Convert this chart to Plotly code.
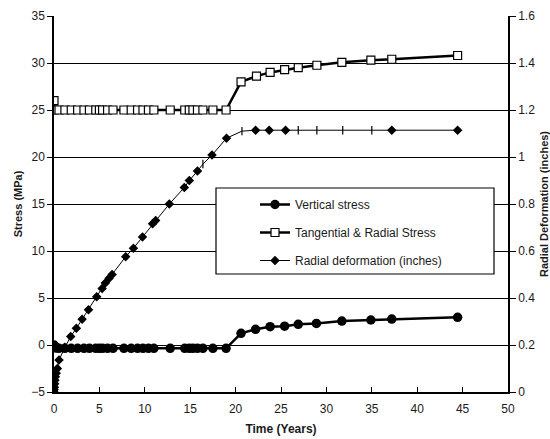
import plotly.graph_objects as go

# ---------------- data ----------------
t_tang = [0, 0.02, 0.55, 1.2, 1.9, 2.6, 3.3, 3.9, 4.6, 5.0, 5.35, 5.9, 6.5, 7.7, 8.5,
          9.2, 9.8, 10.4, 11.0, 12.8, 14.4, 14.9, 15.3, 15.8, 16.4, 17.5, 18.95,
          20.6, 22.3, 23.8, 25.4, 26.9, 28.95, 31.7, 34.9, 37.2, 44.45]
s_tang = [26.0] + [25.0] * 26 + [28.0, 28.6, 29.0, 29.3, 29.5, 29.76, 30.07, 30.3, 30.4, 30.8]

t_vert = [0, 0.05, 0.1, 0.2, 0.3, 0.55, 1.2, 1.9, 2.6, 3.3, 3.9, 4.6, 5.0, 5.35, 5.9,
          6.5, 7.7, 8.5, 9.2, 9.8, 10.4, 11.0, 12.8, 14.4, 14.9, 15.3, 15.8, 16.4,
          17.5, 18.95, 20.6, 22.2, 23.8, 25.4, 26.9, 28.9, 31.7, 34.9, 37.2, 44.45]
s_vert = [0.0, -0.1, -0.2, -0.3, -0.3] + [-0.35] * 25 + [1.24, 1.67, 1.95, 2.0, 2.2, 2.3, 2.55, 2.66, 2.76, 2.94]

t_def = [0, 0.02, 0.04, 0.07, 0.1, 0.15, 0.25, 0.37, 0.55, 1.2, 1.84, 2.46, 3.1, 3.8,
         4.7, 5.3, 5.65, 6.07, 6.4, 7.9, 8.75, 9.75, 10.85, 11.2, 12.7, 14.35, 14.9,
         15.8, 16.4, 17.4, 19.0, 20.7, 22.2, 23.7, 25.5, 26.9, 28.95, 31.8, 35.0,
         37.2, 44.45]
d_def = [0.0, 0.01, 0.02, 0.035, 0.05, 0.065, 0.08, 0.10, 0.136, 0.19, 0.236, 0.271,
         0.31, 0.35, 0.405, 0.44, 0.464, 0.484, 0.50, 0.576, 0.612, 0.66, 0.716, 0.73,
         0.80, 0.87, 0.90, 0.94, 0.97, 1.008, 1.08, 1.11, 1.114, 1.114, 1.114, 1.114,
         1.114, 1.114, 1.114, 1.114, 1.114]
# marker kind per point: diamond or short vertical tick
tick_times = [16.4, 20.7, 26.9, 28.95, 31.8, 35.0]

x_ticks = [0, 5, 10, 15, 20, 25, 30, 35, 40, 45, 50]
y_ticks = [-5, 0, 5, 10, 15, 20, 25, 30, 35]
y2_ticks = [0, 0.2, 0.4, 0.6, 0.8, 1, 1.2, 1.4, 1.6]

FONT = "Liberation Sans, Arial, sans-serif"
TXT = "#1a1a1a"

fig = go.Figure()

fig.add_trace(go.Scatter(
    x=t_vert, y=s_vert, name="Vertical stress", mode="lines+markers",
    line=dict(color="black", width=2.5),
    marker=dict(symbol="circle", size=9.5, color="black"),
    legendgroup="a"))

fig.add_trace(go.Scatter(
    x=t_tang, y=s_tang, name="Tangential & Radial Stress", mode="lines+markers",
    line=dict(color="black", width=2.5),
    marker=dict(symbol="square", size=8, color="white",
                line=dict(color="black", width=1.2)),
    legendgroup="b"))

symbols = ["line-ns" if t in tick_times else "diamond" for t in t_def]
fig.add_trace(go.Scatter(
    x=t_def, y=d_def, name="Radial deformation (inches)", mode="lines+markers",
    yaxis="y2",
    line=dict(color="black", width=1),
    marker=dict(symbol=symbols, size=6, color="black",
                line=dict(color="black", width=1.2)),
    legendgroup="c"))

# plot area in pixels: x 54..508, y 16..392
L, R, T, B = 54, 42, 16, 47
W, H = 550, 439
pw, ph = W - L - R, H - T - B

def px2paper_x(px):
    return (px - L) / pw

def px2paper_y(py):
    return (H - B - py) / ph

fig.update_layout(
    width=W, height=H,
    margin=dict(l=L, r=R, t=T, b=B, autoexpand=False),
    paper_bgcolor="white", plot_bgcolor="white",
    font=dict(family=FONT, size=12, color=TXT),
    showlegend=True,
    legend=dict(
        x=px2paper_x(255), y=px2paper_y(190), xanchor="left", yanchor="top",
        bgcolor="rgba(0,0,0,0)", borderwidth=0,
        font=dict(family=FONT, size=12, color=TXT),
        traceorder="grouped", tracegroupgap=9, itemwidth=30,
    ),
    xaxis=dict(
        range=[0, 50], tickvals=x_ticks, ticks="inside", ticklen=5,
        tickcolor="black", showline=True, linecolor="black", linewidth=1.5,
        showgrid=False, zeroline=False, ticklabelstandoff=5,
        tickfont=dict(family=FONT, size=12, color=TXT),
        title=dict(text="<b>Time (Years)</b>", standoff=9,
                   font=dict(family=FONT, size=12, color=TXT)),
    ),
    yaxis=dict(
        range=[-5, 35], tickvals=y_ticks, ticks="outside", ticklen=5,
        tickcolor="black", showline=True, linecolor="black", linewidth=1.5,
        showgrid=True, gridcolor="black", gridwidth=1, zeroline=False,
        tickfont=dict(family=FONT, size=12, color=TXT),
        title=dict(text="<b>Stress (MPa)</b>", standoff=6,
                   font=dict(family=FONT, size=11, color=TXT)),
    ),
    yaxis2=dict(
        range=[0, 1.6], tickvals=y2_ticks, overlaying="y", side="right",
        ticks="outside", ticklen=6, tickcolor="black",
        showline=True, linecolor="black", linewidth=1.5,
        showgrid=False, zeroline=False,
        tickfont=dict(family=FONT, size=12, color=TXT),
        title=dict(text="<b>Radial Deformation (inches)</b>", standoff=7,
                   font=dict(family=FONT, size=11, color=TXT)),
    ),
    shapes=[dict(
        type="rect", xref="paper", yref="paper",
        x0=px2paper_x(216), x1=px2paper_x(494),
        y0=px2paper_y(274), y1=px2paper_y(188),
        line=dict(color="black", width=1.2), fillcolor="white", layer="above")],
)

fig.write_html("out.html")
